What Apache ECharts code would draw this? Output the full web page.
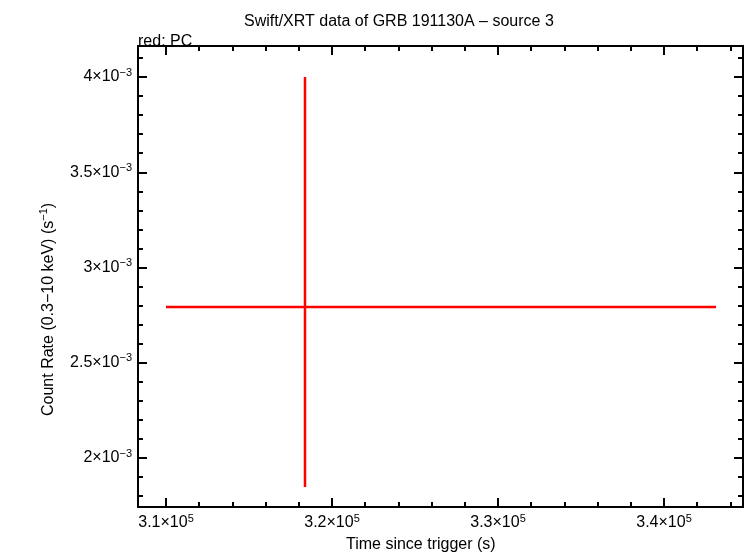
<!DOCTYPE html>
<html><head><meta charset="utf-8">
<script src="https://cdn.jsdelivr.net/npm/echarts@6/dist/echarts.min.js"></script>
<style>html,body{margin:0;padding:0;background:#fff}#c{width:746px;height:558px}</style>
</head><body><div id="c"></div>
<script>
// data: [time, timeLow, timeHigh, rate, rateLow, rateHigh]
const pcTime = [318373];
const pcTimeLow = [310000];
const pcTimeHigh = [343133];
const pcRate = [0.002793];
const pcRateLow = [0.001848];
const pcRateHigh = [0.0040];
const xTicks = [310000, 320000, 330000, 340000];
const yTicks = [0.002, 0.0025, 0.003, 0.0035, 0.004];
const xMinor = [];
for (let v = 310000; v <= 344000; v += 2000) if (v % 10000 !== 0) xMinor.push(v);
const yMinor = [];
for (let i = 18; i <= 41; i++) { if (i % 5 !== 0) yMinor.push(i / 10000); }

const xMin = 308313, xMax = 344759, yMin = 0.001743, yMax = 0.004163;
const font = 'Liberation Sans, Arial, sans-serif';
const rich = { b: { fontSize: 16, fontFamily: font, color: '#000' }, sup: { fontSize: 11, fontFamily: font, color: '#000', padding: [0, 0, 9, 0] } };

function fmtX(v) { return '{b|' + (v / 1e5).toFixed(1) + '×10}{sup|5}'; }
function fmtY(v) { return '{b|' + (Math.round(v * 1e4) / 10) + '×10}{sup|−3}'; }

function xAx(pos, custom, len, labels) {
  return { type: 'value', position: pos, min: xMin, max: xMax,
    axisLine: { show: true, lineStyle: { color: '#000', width: 2 } }, splitLine: { show: false },
    axisTick: { show: true, inside: true, length: len, customValues: custom, lineStyle: { color: '#000', width: 2 } },
    axisLabel: labels ? { show: true, customValues: custom, formatter: fmtX, rich: rich, margin: 6 } : { show: false } };
}
function yAx(pos, custom, len, labels) {
  return { type: 'value', position: pos, min: yMin, max: yMax,
    axisLine: { show: true, lineStyle: { color: '#000', width: 2 } }, splitLine: { show: false },
    axisTick: { show: true, inside: true, length: len, customValues: custom, lineStyle: { color: '#000', width: 2 } },
    axisLabel: labels ? { show: true, customValues: custom, formatter: fmtY, rich: rich, margin: 6 } : { show: false } };
}

const data = pcTime.map((t, i) => [t, pcTimeLow[i], pcTimeHigh[i], pcRate[i], pcRateLow[i], pcRateHigh[i]]);
const chart = echarts.init(document.getElementById('c'));
chart.setOption({
  animation: false,
  grid: { left: 138, right: 3, top: 46, bottom: 51 },
  title: { text: 'Swift/XRT data of GRB 191130A – source 3', left: 239, top: 9,
    textStyle: { fontFamily: font, fontSize: 16, fontWeight: 'normal', color: '#000' } },
  graphic: [
    { type: 'text', left: 138, top: 34, style: { text: 'red: PC', fontFamily: font, fontSize: 16, fill: '#000' } },
    { type: 'text', left: 346, top: 537, style: { text: 'Time since trigger (s)', fontFamily: font, fontSize: 16, fill: '#000' } },
    { type: 'text', x: 38, y: 416, rotation: Math.PI / 2,
      style: { text: '{a|Count Rate (0.3−10 keV) (s}{s|−1}{a|)}', rich: { a: { fontFamily: font, fontSize: 16, fill: '#000' }, s: { fontFamily: font, fontSize: 11, fill: '#000', padding: [0, 0, 10, 0] } } } }
  ],
  xAxis: [xAx('bottom', xTicks, 9, true), xAx('bottom', xMinor, 5, false), xAx('top', xTicks, 9, false), xAx('top', xMinor, 5, false)],
  yAxis: [yAx('left', yTicks, 9, true), yAx('left', yMinor, 5, false), yAx('right', yTicks, 9, false), yAx('right', yMinor, 5, false)],
  series: [{
    type: 'custom', xAxisIndex: 0, yAxisIndex: 0, data: data,
    renderItem: function (params, api) {
      const c = api.coord([api.value(0), api.value(3)]);
      const xl = api.coord([api.value(1), api.value(3)]);
      const xh = api.coord([api.value(2), api.value(3)]);
      const yl = api.coord([api.value(0), api.value(4)]);
      const yh = api.coord([api.value(0), api.value(5)]);
      const st = { stroke: '#ff0000', lineWidth: 2.5 };
      return { type: 'group', children: [
        { type: 'line', shape: { x1: xl[0], y1: c[1], x2: xh[0], y2: c[1] }, style: st },
        { type: 'line', shape: { x1: c[0], y1: yl[1], x2: c[0], y2: yh[1] }, style: st }
      ] };
    }
  }]
});
</script></body></html>
